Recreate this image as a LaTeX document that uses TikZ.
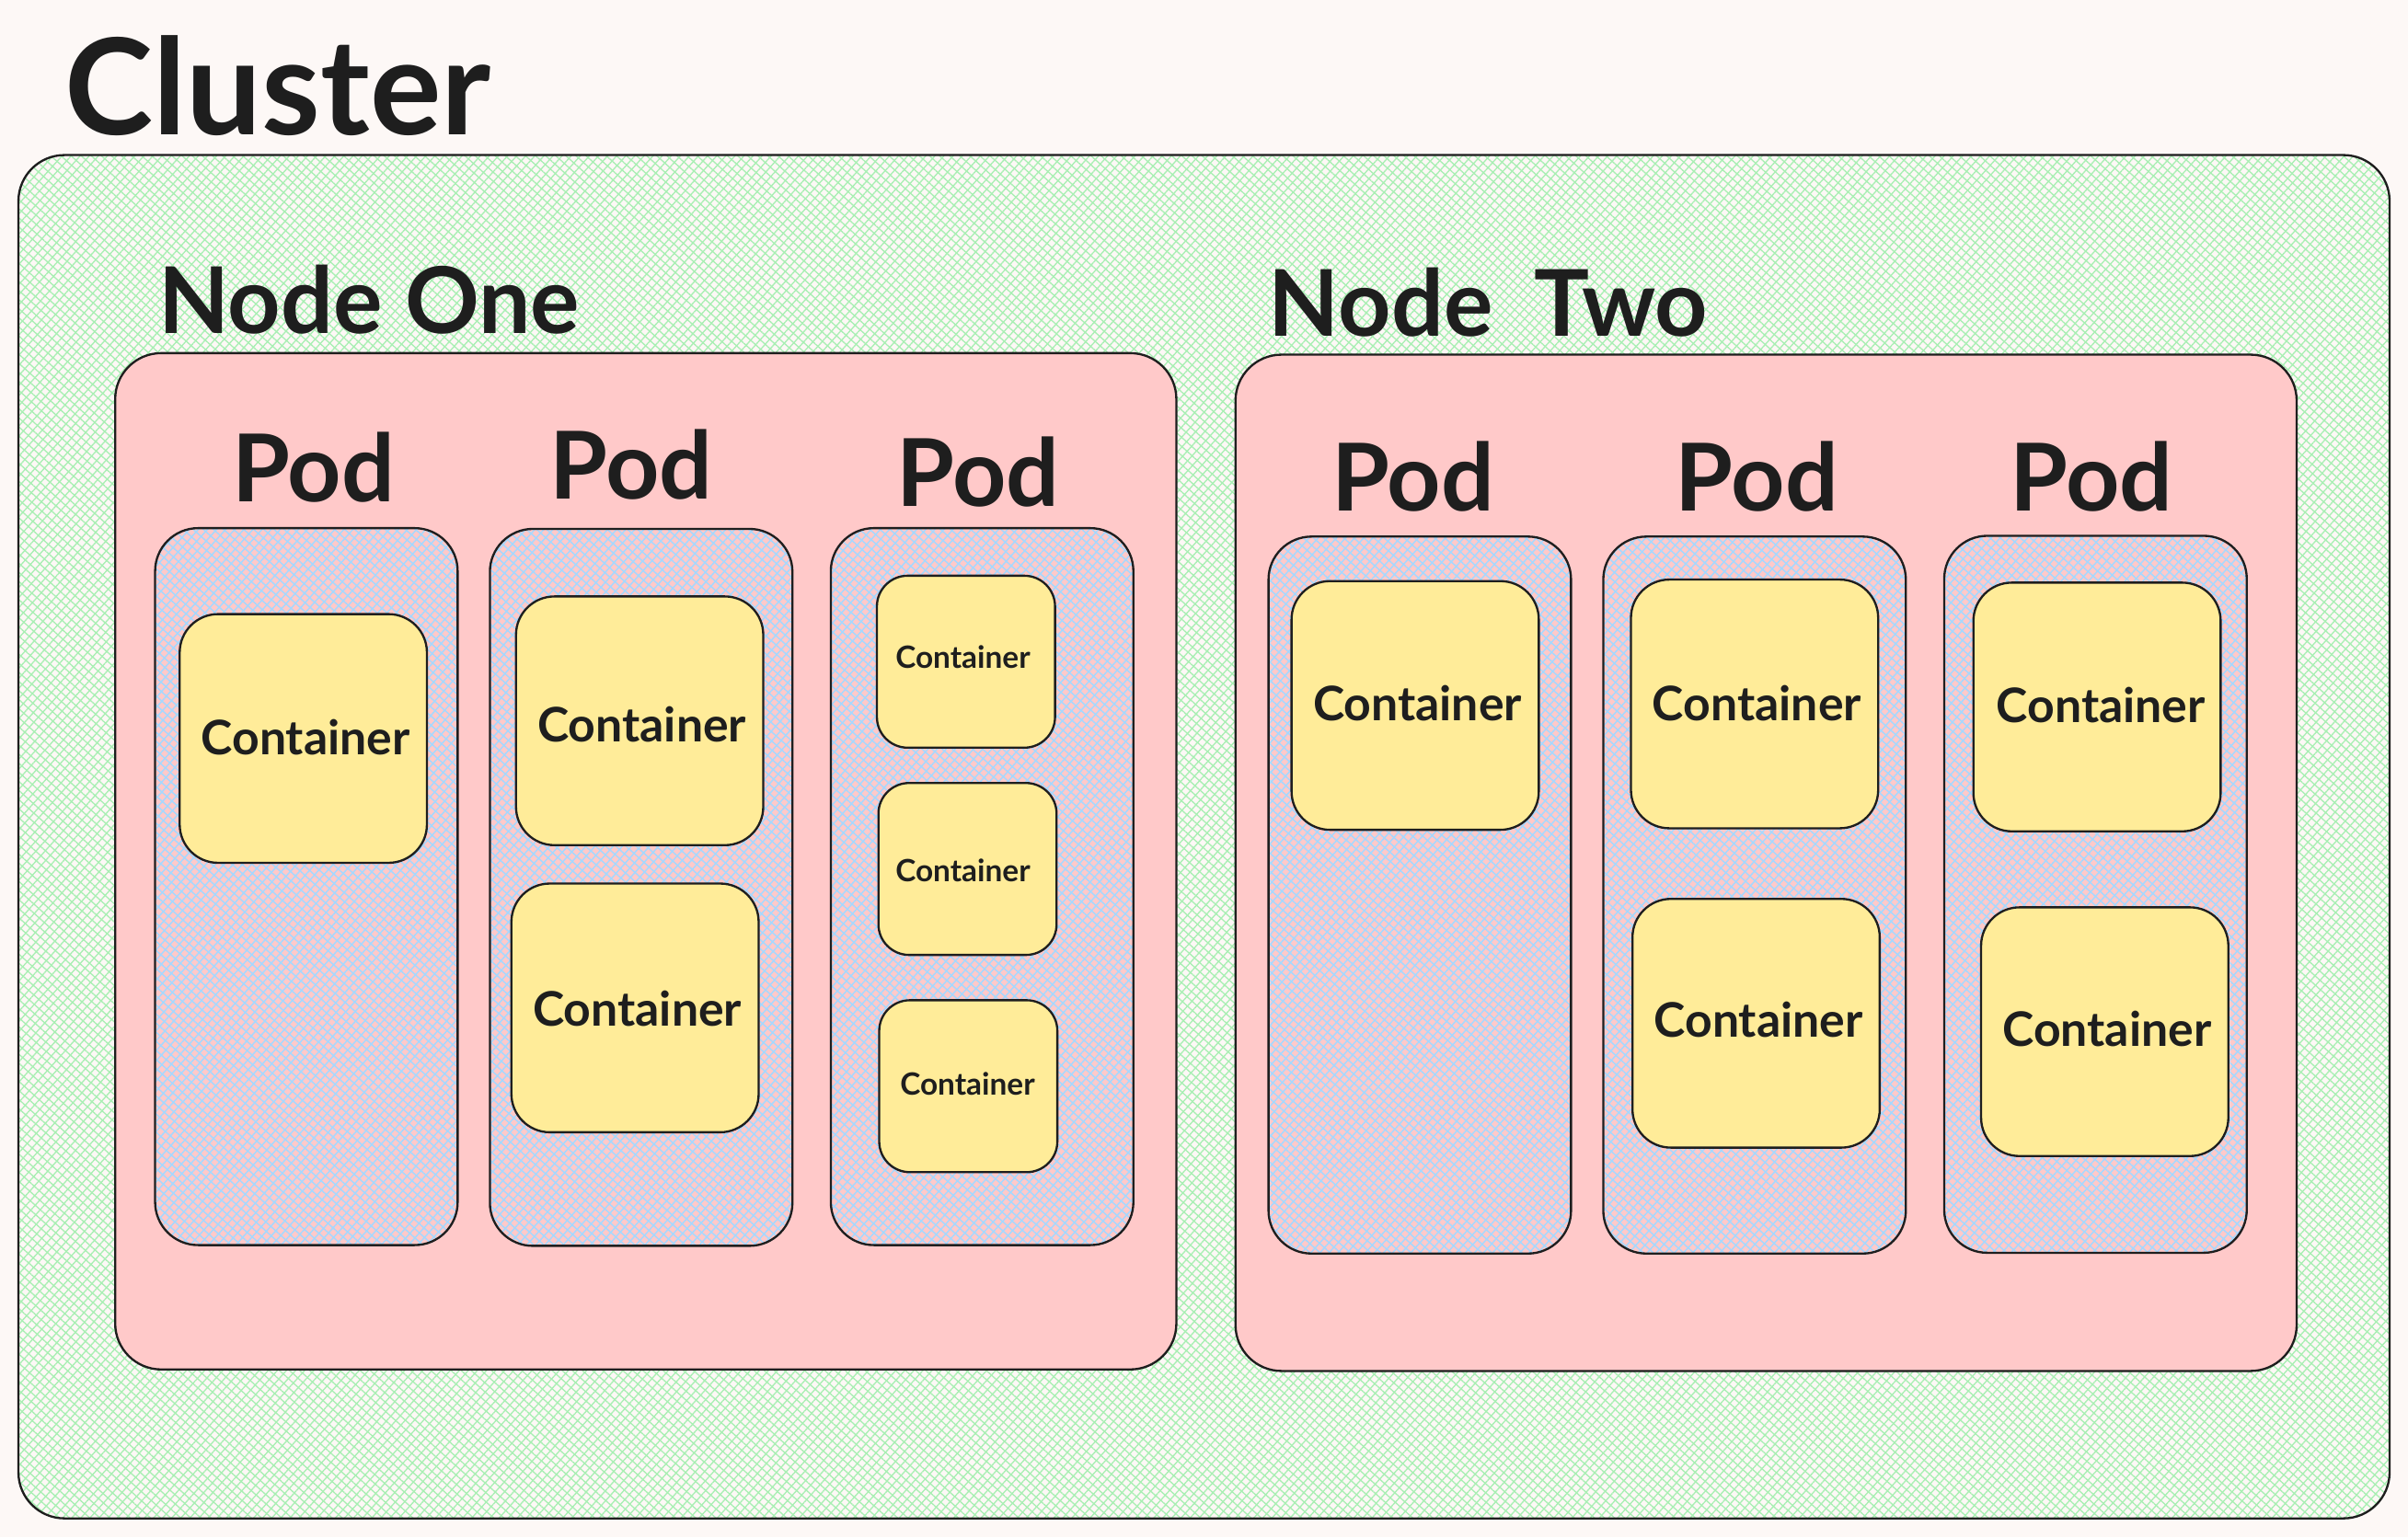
\documentclass[tikz,border=0pt]{standalone}
\usepackage{fontspec}
\setmainfont{Lato}
\usetikzlibrary{patterns.meta}
\definecolor{bgc}{HTML}{FDF8F6}
\definecolor{greenc}{HTML}{A8EFB3}
\definecolor{pinkc}{HTML}{FFC9C9}
\definecolor{bluec}{HTML}{A5D8FF}
\definecolor{yellowc}{HTML}{FFEC99}
\definecolor{inkc}{HTML}{1E1E1E}
\tikzset{
  inkline/.style={draw=inkc, line width=1.4pt, rectangle, inner sep=0pt},
  clusterbox/.style={inkline, rounded corners=30pt,
    preaction={fill=bgc},
    preaction={pattern={Lines[angle=48,distance=4.4pt,line width=0.8pt]}, pattern color=greenc},
    pattern={Lines[angle=-42,distance=4.4pt,line width=0.8pt]}, pattern color=greenc},
  nodebox/.style={inkline, rounded corners=30pt, fill=pinkc, minimum width=691pt, minimum height=662pt},
  podbox/.style={inkline, rounded corners=28pt, minimum width=197pt, minimum height=467pt,
    preaction={fill=pinkc},
    preaction={pattern={Lines[angle=48,distance=4.4pt,line width=0.9pt]}, pattern color=bluec},
    pattern={Lines[angle=-42,distance=4.4pt,line width=0.9pt]}, pattern color=bluec},
  contbox/.style={inkline, rounded corners=25pt, fill=yellowc, minimum width=161pt, minimum height=162pt},
  smallbox/.style={inkline, rounded corners=20pt, fill=yellowc, minimum width=116pt, minimum height=112pt},
  bigtitle/.style={text=inkc, inner sep=0pt, anchor=base west, font=\fontsize{87}{104}\selectfont\bfseries},
  nodetitle/.style={text=inkc, inner sep=0pt, anchor=base west, font=\fontsize{60}{72}\selectfont\bfseries},
  podtitle/.style={text=inkc, inner sep=0pt, anchor=base, font=\fontsize{61}{73}\selectfont\bfseries},
  conttext/.style={text=inkc, inner sep=0pt, font=\fontsize{31}{37}\selectfont\bfseries},
  smalltext/.style={text=inkc, inner sep=0pt, font=\fontsize{20}{24}\selectfont\bfseries},
}
\begin{document}
\begin{tikzpicture}[x=1pt,y=-1pt]
\useasboundingbox (0,0) rectangle (1568,1001.2);
\fill[bgc] (0,0) rectangle (1568,1001.2);
% cluster
\node[clusterbox, minimum width=1544pt, minimum height=888pt] (cluster) at (784,545) {};
\node[bigtitle] (clustertitle) at (42,88) {Cluster};
% nodes
\node[nodebox] (node1) at (420.5,561) {};
\node[nodebox] (node2) at (1150,562) {};
\node[nodetitle] (node1title) at (103,217) {Node One};
\node[nodetitle] (node2title) at (826,219) {Node\hspace{0.45em}Two};
% pods
\node[podbox] (pod1) at (199.5,577.5) {};
\node[podbox] (pod2) at (417.5,578) {};
\node[podbox] (pod3) at (639.5,577.5) {};
\node[podbox] (pod4) at (924.5,583) {};
\node[podbox] (pod5) at (1142.5,583) {};
\node[podbox] (pod6) at (1364.5,582.5) {};
\node[podtitle] (pod1title) at (204,327) {Pod};
\node[podtitle] (pod2title) at (411,325) {Pod};
\node[podtitle] (pod3title) at (637,330) {Pod};
\node[podtitle] (pod4title) at (920,333) {Pod};
\node[podtitle] (pod5title) at (1144,333) {Pod};
\node[podtitle] (pod6title) at (1362,333) {Pod};
% containers
\node[contbox] (c11) at (197.5,481) {};
\node[contbox] (c21) at (416.5,469.5) {};
\node[contbox] (c22) at (413.5,656.5) {};
\node[smallbox] (c31) at (629,431) {};
\node[smallbox] (c32) at (630,566) {};
\node[smallbox] (c33) at (630.5,707.5) {};
\node[contbox] (c41) at (921.5,459.5) {};
\node[contbox] (c51) at (1142.5,458.5) {};
\node[contbox] (c52) at (1143.5,666.5) {};
\node[contbox] (c61) at (1365.5,460.5) {};
\node[contbox] (c62) at (1370.5,672) {};
\node[conttext] (c11t) at (199,480) {Container};
\node[conttext] (c21t) at (418,472) {Container};
\node[conttext] (c22t) at (415,657) {Container};
\node[smalltext] (c31t) at (627,428) {Container};
\node[smalltext] (c32t) at (627,567) {Container};
\node[smalltext] (c33t) at (630,706) {Container};
\node[conttext] (c41t) at (923,458) {Container};
\node[conttext] (c51t) at (1144,458) {Container};
\node[conttext] (c52t) at (1145,664) {Container};
\node[conttext] (c61t) at (1368,459) {Container};
\node[conttext] (c62t) at (1372,670) {Container};
\end{tikzpicture}
\end{document}
